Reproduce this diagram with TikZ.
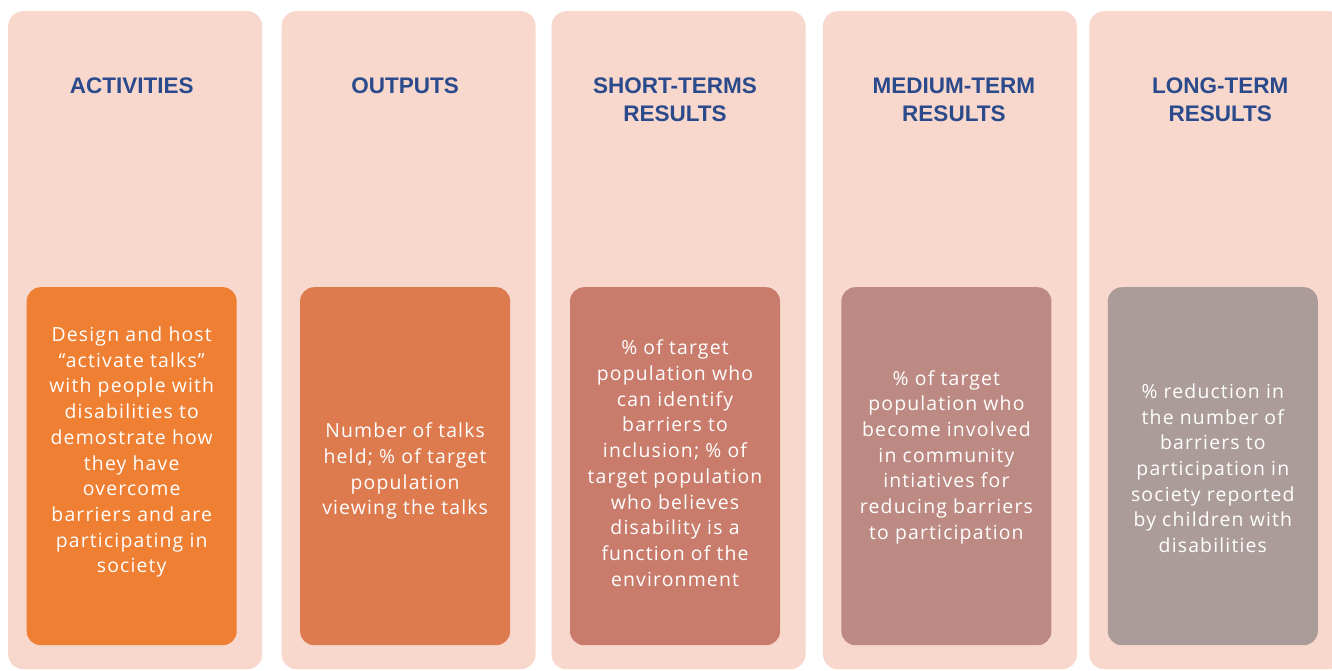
\documentclass[tikz,border=0pt]{standalone}
\usepackage{fontspec}
\setmainfont{Open Sans}
\newfontfamily\headfont{Liberation Sans}
\newfontfamily\bodyfont[LetterSpace=6]{Open Sans}
\usepackage{xcolor}
\usepackage{tikz}
\usetikzlibrary{positioning}

\definecolor{panelpink}{HTML}{F8D7CD}
\definecolor{titleblue}{HTML}{2B4A8B}
\definecolor{actfill}{HTML}{EE7F33}
\definecolor{outfill}{HTML}{DD7B4F}
\definecolor{shortfill}{HTML}{C97C6C}
\definecolor{medfill}{HTML}{BC8A83}
\definecolor{longfill}{HTML}{AB9C99}

\begin{document}
\begin{tikzpicture}[x=1pt,y=1pt,node distance=16.5pt,
  panel/.style={fill=panelpink, rounded corners=15pt, minimum width=254pt, minimum height=658pt, inner sep=0pt},
  heading/.style={font=\headfont\bfseries\fontsize{22.5}{28}\selectfont, text=titleblue, align=center, inner sep=0pt},
  resultbox/.style={rounded corners=14pt, minimum width=210pt, minimum height=358pt, inner sep=0pt},
  boxtext/.style={font=\bodyfont\fontsize{19.4}{25.7}\selectfont, text=white, align=center, inner sep=0pt}]

\useasboundingbox (0,0) rectangle (1332,670);
\clip (0,0) rectangle (1332,670);

% Panels
\node [panel, anchor=north west] (act) at (8,659) {};
\node [panel, right=19pt of act] (out) {};
\node [panel, right=15.5pt of out] (short) {};
\node [panel, right=17pt of short] (med) {};
\node [panel, right=12pt of med] (long) {};

% Headings
\node [heading, below=67pt of act.north, xshift=-3.5pt] (act-head) {ACTIVITIES};
\node [heading, below=67pt of out.north, xshift=-3.5pt] (out-head) {OUTPUTS};
\node [heading, below=67pt of short.north, xshift=-3.5pt] (short-head) {SHORT-TERMS\\RESULTS};
\node [heading, below=67pt of med.north, xshift=4pt] (med-head) {MEDIUM-TERM\\RESULTS};
\node [heading, below=67pt of long.north, xshift=4pt] (long-head) {LONG-TERM\\RESULTS};

% Boxes
\node [resultbox, fill=actfill, below=276pt of act.north, xshift=-3.5pt] (act-box) {};
\node [resultbox, fill=outfill, below=276pt of out.north, xshift=-3.5pt] (out-box) {};
\node [resultbox, fill=shortfill, below=276pt of short.north, xshift=-3.5pt] (short-box) {};
\node [resultbox, fill=medfill, below=276pt of med.north, xshift=-3.5pt] (med-box) {};
\node [resultbox, fill=longfill, below=276pt of long.north, xshift=-3.5pt] (long-box) {};

% Texts
\node [boxtext, yshift=14pt] (act-txt) at (act-box) {Design and host\\“activate talks”\\with people with\\disabilities to\\demostrate how\\they have\\overcome\\barriers and are\\participating in\\society};
\node [boxtext, yshift=-5pt] (out-txt) at (out-box) {Number of talks\\held; \% of target\\population\\viewing the talks};
\node [boxtext, yshift=3pt] (short-txt) at (short-box) {\% of target\\population who\\can identify\\barriers to\\inclusion; \% of\\target population\\who believes\\disability is a\\function of the\\environment};
\node [boxtext, yshift=9pt] (med-txt) at (med-box) {\% of target\\population who\\become involved\\in community\\intiatives for\\reducing barriers\\to participation};
\node [boxtext, yshift=-2pt] (long-txt) at (long-box) {\% reduction in\\the number of\\barriers to\\participation in\\society reported\\by children with\\disabilities};

\end{tikzpicture}
\end{document}
